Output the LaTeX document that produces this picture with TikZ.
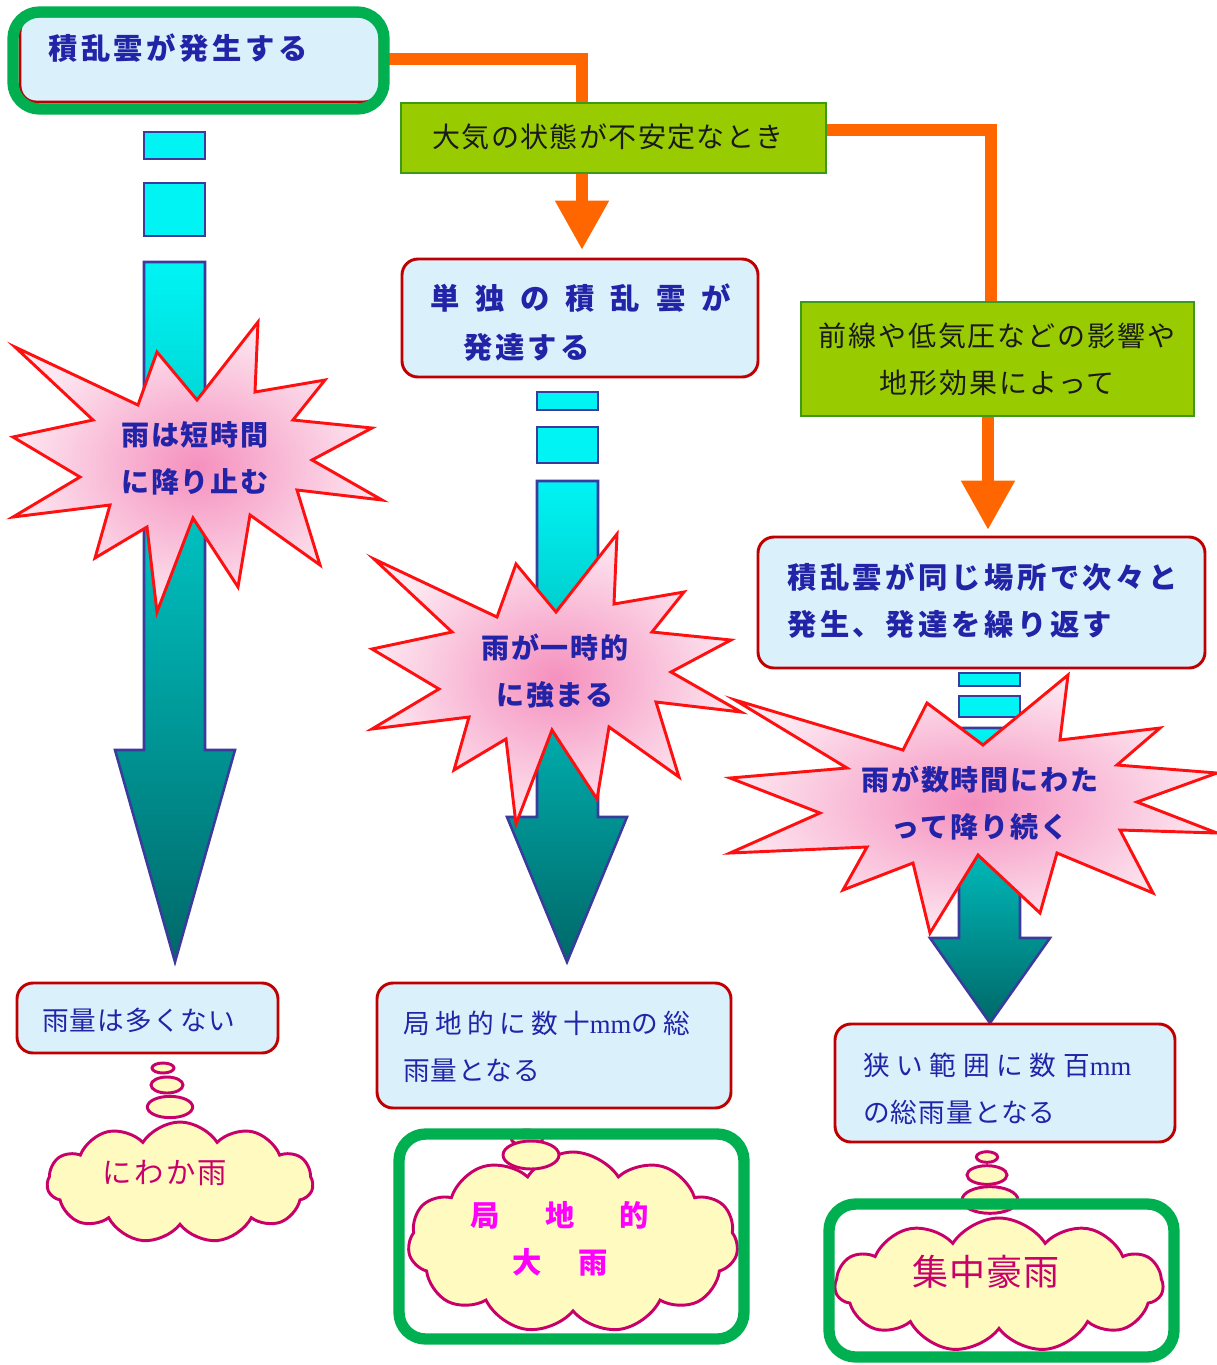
\documentclass[tikz,border=0pt]{standalone}
\usepackage{fontspec}
\usetikzlibrary{arrows.meta,shapes.symbols,fit}
\newfontfamily\jp{Noto Sans CJK JP}
\newfontfamily\mmfont{Liberation Serif}
\newcommand{\jpB}[2]{\jp\bfseries\fontsize{#1}{35.25}\selectfont\addfontfeatures{LetterSpace=#2}}
\newcommand{\jpR}[2]{\jp\fontsize{#1}{35.25}\selectfont\addfontfeatures{LetterSpace=#2}}
\pgfdeclarelayer{bg}
\pgfsetlayers{bg,main}
\definecolor{txtblue}{HTML}{2323A8}
\definecolor{boxred}{HTML}{C00000}
\definecolor{boxfill}{HTML}{DAF1FB}
\definecolor{gfill}{HTML}{99CC00}
\definecolor{gborder}{HTML}{3C9A1A}
\definecolor{orangeline}{HTML}{FF6600}
\definecolor{hlgreen}{HTML}{00B050}
\definecolor{starred}{HTML}{FF1010}
\definecolor{starin}{HTML}{F590BE}
\definecolor{starout}{HTML}{FDE8F1}
\definecolor{arrborder}{HTML}{3B3B9E}
\definecolor{arrtop}{HTML}{00F4F4}
\definecolor{arrbot}{HTML}{006868}
\definecolor{cloudline}{HTML}{C8006A}
\definecolor{cloudfill}{HTML}{FFFAC0}
\definecolor{crimson}{HTML}{C8006A}
\definecolor{magentatxt}{HTML}{FF00FF}
\definecolor{darktxt}{HTML}{1A1A1A}
\tikzset{
  rbox/.style={draw=boxred, line width=2.2pt, fill=boxfill, rounded corners=12pt, inner sep=0pt},
  gbox/.style={draw=gborder, line width=1.4pt, fill=gfill, inner sep=0pt},
  hlbox/.style={draw=hlgreen, line width=8.5pt, rounded corners=20pt, inner sep=0pt},
  oline/.style={draw=orangeline, line width=9pt},
  otip/.style={-{Triangle[width=38pt,length=37pt]}},
  burst/.style={draw=starred, line width=2.2pt, inner color=starin, outer color=starout, line join=miter},
  arrbody/.style={draw=arrborder, line width=1.9pt, top color=arrtop, bottom color=arrbot},
  seg/.style={draw=arrborder, line width=1.9pt, fill=arrtop},
  cloudsh/.style={cloud, cloud puffs=11, cloud puff arc=115, cloud ignores aspect, draw=cloudline, line width=2.2pt, fill=cloudfill, inner sep=0pt},
  bubble/.style={draw=cloudline, line width=2.2pt, fill=cloudfill},
  bt/.style={text=txtblue, inner sep=0pt},
  gt/.style={text=darktxt, inner sep=0pt, align=center},
}
\begin{document}
\begin{tikzpicture}[x=0.75pt,y=-0.75pt]
\useasboundingbox (0,0) rectangle (1217,1365);
\begin{pgfonlayer}{bg}
  \fill[white] (0,0) rectangle (1217,1365);
\end{pgfonlayer}

% big arrows
\path[arrbody] (144,262) -- (205,262) -- (205,750) -- (235,750) -- (175,962) -- (115,750) -- (144,750) -- cycle;
\path[seg] (144,132) rectangle (205,159);
\path[seg] (144,183) rectangle (205,236);

\path[arrbody] (537,481) -- (598,481) -- (598,817) -- (627,817) -- (567,962) -- (507,817) -- (537,817) -- cycle;
\path[seg] (537,392) rectangle (598,410);
\path[seg] (537,427) rectangle (598,463);

\path[arrbody] (959,728) -- (1020,728) -- (1020,938) -- (1050,938) -- (990,1023) -- (930,938) -- (959,938) -- cycle;
\path[seg] (959,673) rectangle (1020,686);
\path[seg] (959,696) rectangle (1020,717);

% boxes
\node[rbox, fit={(20,16)(380,102)}] (b1) {};
\node[hlbox, fit={(13,12)(384,109)}] (h1) {};
\node[gbox, fit={(401,103)(826,173)}] (g1) {};
\node[rbox, fit={(402,259)(758,377)}] (b2) {};
\node[gbox, fit={(801,302)(1194,416)}] (g2) {};
\node[rbox, fit={(758,537)(1205,668)}] (b3) {};

% orange connectors
\coordinate (a1) at (582,250);
\coordinate (a3) at (988,530);
\begin{pgfonlayer}{bg}
  \draw[oline, otip] (b1.east) -| (a1);
  \draw[oline] ([yshift=6pt]g1.east) -| ([xshift=-5pt]g2.north);
  \draw[oline, otip] (g2.south -| a3) -- (a3);
\end{pgfonlayer}

% starbursts
\path[burst] (15,347) -- (138,405) -- (157,352) -- (197,400) -- (258,322) -- (255,392) -- (325,380) -- (293,420) -- (372,428) -- (312,460) -- (382,500) -- (297,490) -- (320,565) -- (250,515) -- (238,587) -- (193,518) -- (157,612) -- (147,527) -- (95,558) -- (110,505) -- (13,517) -- (80,477) -- (13,437) -- (93,420) -- cycle;
\begin{scope}[shift={(359,212)}]
\path[burst] (15,347) -- (138,405) -- (157,352) -- (197,400) -- (258,322) -- (255,392) -- (325,380) -- (293,420) -- (372,428) -- (312,460) -- (382,500) -- (297,490) -- (320,565) -- (250,515) -- (238,587) -- (193,518) -- (157,612) -- (147,527) -- (95,558) -- (110,505) -- (13,517) -- (80,477) -- (13,437) -- (93,420) -- cycle;
\end{scope}
\path[burst] (735,700) -- (903,750) -- (927,703) -- (983,745) -- (1068,675) -- (1060,740) -- (1160,728) -- (1117,765) -- (1217,773) -- (1137,802) -- (1217,833) -- (1120,830) -- (1153,893) -- (1057,853) -- (1040,913) -- (978,855) -- (930,933) -- (913,863) -- (843,890) -- (867,847) -- (730,853) -- (820,813) -- (730,778) -- (847,768) -- cycle;

% bottom boxes
\node[rbox, fit={(17,983)(278,1053)}] (b4) {};
\node[rbox, fit={(377,983)(731,1108)}] (b5) {};
\node[rbox, fit={(835,1024)(1175,1142)}] (b6) {};

% clouds and bubbles
\node[cloudsh, minimum width=199.5pt, minimum height=90.75pt] (c1) at (180,1182.5) {};
\draw[bubble] (163,1068) ellipse [x radius=8.25pt, y radius=3.75pt];
\draw[bubble] (167,1085) ellipse [x radius=12pt, y radius=6pt];
\draw[bubble] (170,1107) ellipse [x radius=17pt, y radius=8pt];

\node[cloudsh, minimum width=247.5pt, minimum height=135.75pt] (c2) at (573,1242.5) {};
\draw[bubble] (527,1138) ellipse [x radius=12pt, y radius=6pt];
\draw[bubble] (531,1155) ellipse [x radius=21pt, y radius=10.5pt];

\draw[bubble] (987,1157) ellipse [x radius=8pt, y radius=4pt];
\draw[bubble] (987,1175) ellipse [x radius=15pt, y radius=7pt];
\draw[bubble] (990,1200) ellipse [x radius=21pt, y radius=10pt];
\node[cloudsh, minimum width=246pt, minimum height=100.5pt] (c3) at (999,1285) {};

% highlight frames
\node[hlbox, fit={(399,1134)(744,1339)}] (h2) {};
\node[hlbox, fit={(829,1204)(1174,1357)}] (h3) {};

% texts
\node[bt, anchor=west, font=\jpB{22}{12}] (b1t) at (48,48) {積乱雲が発生する};
\node[gt, font=\jpR{21}{5}] (g1t) at (608,137) {大気の状態が不安定なとき};
\node[bt, anchor=west, font=\jpB{22}{54}] (b2ta) at (430,298) {単独の積乱雲が};
\node[bt, anchor=west, font=\jpB{22}{10}] (b2tb) at (463,347) {発達する};
\node[gt, font=\jpR{21}{7}] (g2t) at (997,359.5) {前線や低気圧などの影響や\\地形効果によって};
\node[bt, anchor=west, align=left, font=\jpB{22}{12}] (b3t) at (787,600.5) {積乱雲が同じ場所で次々と\\発生、発達を繰り返す};
\node[bt, align=center, font=\jpB{21}{7}] (s1t) at (195,458.5) {雨は短時間\\に降り止む};
\node[bt, align=center, font=\jpB{21}{7}] (s2t) at (555,671.5) {雨が一時的\\に強まる};
\node[bt, align=center, font=\jpB{21}{7}] (s3t) at (980,803.5) {雨が数時間にわた\\って降り続く};
\node[bt, anchor=west, font=\jpR{20}{4}] (b4t) at (42,1020) {雨量は多くない};
\node[bt, anchor=west, align=left, font=\jpR{20}{4}] (b5t) at (403,1046.5) {{\addfontfeatures{LetterSpace=20}局地的に数十{\mmfont mm}の総}\\雨量となる};
\node[bt, anchor=west, align=left, font=\jpR{20}{4}] (b6t) at (863,1088.5) {{\addfontfeatures{LetterSpace=25}狭い範囲に数百{\mmfont mm}}\\の総雨量となる};
\node[text=crimson, inner sep=0pt, font=\jpR{22}{8}] (c1t) at (165,1173) {にわか雨};
\node[text=magentatxt, inner sep=0pt, align=center, font=\jpB{22}{0}] (c2t) at (560,1238.5) {局\hspace{34pt}地\hspace{34pt}的\\大\hspace{27.5pt}雨};
\node[text=crimson, inner sep=0pt, font=\jpR{27}{3}] (c3t) at (986,1272) {集中豪雨};
\end{tikzpicture}
\end{document}
